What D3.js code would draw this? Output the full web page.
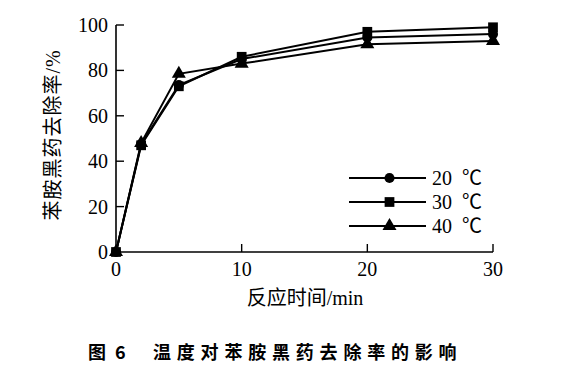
<!DOCTYPE html>
<html>
<head>
<meta charset="utf-8">
<script src="https://cdn.jsdelivr.net/npm/d3@7"></script>
<style>
  body { margin: 0; background: #fff; }
  svg text { fill: #000; }
  .tick-label { font-family: "Liberation Serif", "Noto Sans CJK SC", serif; font-size: 20px; }
  .axis-title { font-family: "Liberation Serif", "Noto Sans CJK SC", serif; font-size: 20px; }
  .caption { font-family: "Noto Sans CJK SC", sans-serif; font-size: 18px; font-weight: bold; }
</style>
</head>
<body>
<div id="chart"></div>
<script>
const width = 587;
const height = 372;

// data
const times = [0, 2, 5, 10, 20, 30];
const seriesNames = ["20 ℃", "30 ℃", "40 ℃"];
const removal20 = [0, 47.5, 73.5, 85, 94.5, 96];
const removal30 = [0, 47, 73, 86, 97, 99];
const removal40 = [0, 48, 78.5, 83, 91.5, 93];
const xTicks = [0, 10, 20, 30];
const yTicks = [0, 20, 40, 60, 80, 100];

const seriesList = [
   {name: seriesNames[0], values: removal20, symbol: d3.symbolCircle, size: 80},
   {name: seriesNames[1], values: removal30, symbol: d3.symbolSquare, size: 95},
   {name: seriesNames[2], values: removal40, symbol: d3.symbolTriangle, size: 85}
];

const svg = d3.select("#chart").append("svg")
   .attr("width", width)
   .attr("height", height);

const margin = {top: 25, right: 94, bottom: 120, left: 116};

const x = d3.scaleLinear()
   .domain([0, 30])
   .range([margin.left, width - margin.right]);

const y = d3.scaleLinear()
   .domain([0, 100])
   .range([height - margin.bottom, margin.top]);

// axes lines
svg.append("line")
   .attr("x1", x(0)).attr("x2", x(0))
   .attr("y1", y(0)).attr("y2", y(100))
   .attr("stroke", "#000").attr("stroke-width", 1.6);
svg.append("line")
   .attr("x1", x(0)).attr("x2", x(30))
   .attr("y1", y(0)).attr("y2", y(0))
   .attr("stroke", "#000").attr("stroke-width", 1.6);

// y ticks (inward)
yTicks.forEach(t => {
   if (t > 0) {
      svg.append("line")
         .attr("x1", x(0)).attr("x2", x(0) + 8)
         .attr("y1", y(t)).attr("y2", y(t))
         .attr("stroke", "#000").attr("stroke-width", 1.4);
   }
   svg.append("text")
      .attr("class", "tick-label")
      .attr("x", x(0) - 8)
      .attr("y", y(t) + 7)
      .style("text-anchor", "end")
      .text(t);
});

// x ticks (inward)
xTicks.forEach(t => {
   if (t > 0) {
      svg.append("line")
         .attr("x1", x(t)).attr("x2", x(t))
         .attr("y1", y(0)).attr("y2", y(0) - 8)
         .attr("stroke", "#000").attr("stroke-width", 1.4);
   }
   svg.append("text")
      .attr("class", "tick-label")
      .attr("x", x(t))
      .attr("y", y(0) + 24)
      .style("text-anchor", "middle")
      .text(t);
});

// axis titles
svg.append("text")
   .attr("class", "axis-title")
   .attr("x", 305)
   .attr("y", 305)
   .style("text-anchor", "middle")
   .text("反应时间/min");

svg.append("text")
   .attr("class", "axis-title")
   .attr("transform", "translate(60," + 135 + ") rotate(-90)")
   .style("text-anchor", "middle")
   .style("letter-spacing", "1px")
   .text("苯胺黑药去除率/%");

// lines + markers
const line = d3.line()
   .x((d, i) => x(times[i]))
   .y(d => y(d));

seriesList.forEach(s => {
   svg.append("path")
      .attr("d", line(s.values))
      .attr("fill", "none")
      .attr("stroke", "#000")
      .attr("stroke-width", 2);
   svg.selectAll(null)
      .data(s.values)
      .enter()
      .append("path")
      .attr("transform", (d, i) => "translate(" + x(times[i]) + "," + y(d) + ")")
      .attr("d", d3.symbol().type(s.symbol).size(s.size))
      .attr("fill", "#000");
});

// legend
const legendX1 = 349, legendX2 = 426, legendTop = 178, legendGap = 24;
seriesList.forEach((s, i) => {
   const ly = legendTop + i * legendGap;
   svg.append("line")
      .attr("x1", legendX1).attr("x2", legendX2)
      .attr("y1", ly).attr("y2", ly)
      .attr("stroke", "#000").attr("stroke-width", 2);
   svg.append("path")
      .attr("transform", "translate(" + ((legendX1 + legendX2) / 2 + 2) + "," + ly + ")")
      .attr("d", d3.symbol().type(s.symbol).size(s.size))
      .attr("fill", "#000");
   svg.append("text")
      .attr("class", "tick-label")
      .attr("x", 432)
      .attr("y", ly + 7)
      .style("white-space", "pre")
      .text(s.name.replace(" ", "  "));
});

// caption
svg.append("text")
   .attr("class", "caption")
   .attr("x", 88)
   .attr("y", 359)
   .text("图");
svg.append("text")
   .attr("class", "caption")
   .attr("x", 115)
   .attr("y", 359)
   .text("6");
svg.append("text")
   .attr("class", "caption")
   .attr("x", 153)
   .attr("y", 359)
   .style("letter-spacing", "5.8px")
   .text("温度对苯胺黑药去除率的影响");
</script>
</body>
</html>
